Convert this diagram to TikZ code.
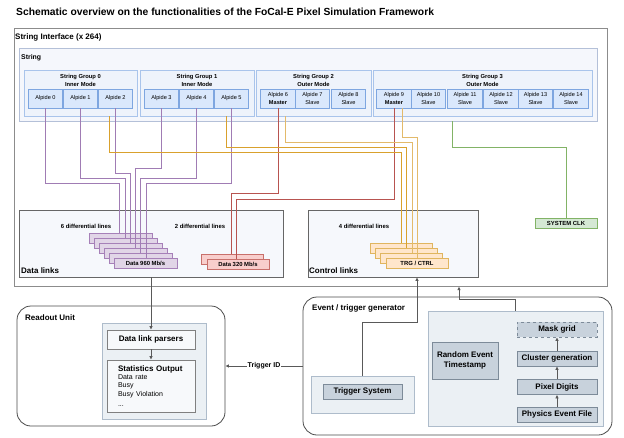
\documentclass[tikz,border=0pt]{standalone}
\usepackage{fontspec}
\setmainfont{Liberation Sans}
\usetikzlibrary{arrows.meta}
\definecolor{alpFl}{HTML}{DAE8FC}
\definecolor{alpBd}{HTML}{7EA6E0}
\definecolor{grpFl}{HTML}{EEF3FB}
\definecolor{grpBd}{HTML}{A9C4EB}
\definecolor{strFl}{HTML}{F5F7FC}
\definecolor{strBd}{HTML}{B4C0D8}
\definecolor{lnkFl}{HTML}{F6F8FC}
\definecolor{purFl}{HTML}{E1D5E7}
\definecolor{purBd}{HTML}{A680B8}
\definecolor{redFl}{HTML}{F8CECC}
\definecolor{redBd}{HTML}{C8706B}
\definecolor{oraFl}{HTML}{FFE6CC}
\definecolor{oraBd}{HTML}{E0B55F}
\definecolor{grnFl}{HTML}{D5E8D4}
\definecolor{grnBd}{HTML}{82B366}
\definecolor{pnlFl}{HTML}{EBF0F4}
\definecolor{pnlBd}{HTML}{AEBCCB}
\definecolor{dkFl}{HTML}{C8D2DC}
\definecolor{dkBd}{HTML}{7D8B99}
\definecolor{wOra}{HTML}{D9A12D}
\definecolor{wOraL}{HTML}{E3BA6A}
\definecolor{wPur}{HTML}{A07CB4}
\definecolor{wRed}{HTML}{B85450}
\tikzset{
    alp/.style ={rectangle, draw=alpBd, fill=alpFl, line width=0.7pt, minimum width=34.5pt, minimum height=19pt, inner sep=0pt, align=center, font=\fontsize{5.6}{8}\selectfont},
    grp/.style ={rectangle, draw=grpBd, fill=grpFl, line width=0.7pt, inner sep=0pt},
    glbl/.style ={align=center, inner sep=0pt, font=\fontsize{5.8}{7.3}\selectfont\bfseries},
    lbl/.style ={anchor=west, inner sep=0pt, font=\fontsize{8}{9}\selectfont\bfseries},
    slbl/.style ={inner sep=0pt, font=\fontsize{5.9}{7}\selectfont\bfseries},
    lnk/.style ={rectangle, draw=black!60, fill=lnkFl, line width=0.8pt, inner sep=0pt},
    pstk/.style ={rectangle, draw=purBd, fill=purFl, line width=0.7pt, minimum width=63pt, minimum height=10pt, inner sep=0pt, font=\fontsize{5.9}{7}\selectfont\bfseries},
    rstk/.style ={rectangle, draw=redBd, fill=redFl, line width=0.7pt, minimum width=62pt, minimum height=10pt, inner sep=0pt, font=\fontsize{5.9}{7}\selectfont\bfseries},
    ostk/.style ={rectangle, draw=oraBd, fill=oraFl, line width=0.7pt, minimum width=62pt, minimum height=10pt, inner sep=0pt, font=\fontsize{5.9}{7}\selectfont\bfseries},
    unit/.style ={rectangle, rounded corners=14pt, draw=black!70, fill=white, line width=0.8pt, inner sep=0pt},
    pnl/.style ={rectangle, draw=pnlBd, fill=pnlFl, line width=0.7pt, inner sep=0pt},
    dbox/.style ={rectangle, draw=dkBd, fill=dkFl, line width=0.7pt, inner sep=0pt, align=center, font=\fontsize{8}{10}\selectfont\bfseries},
    wbox/.style ={rectangle, draw=black!50, fill=white!60!pnlFl, line width=0.7pt, inner sep=0pt, font=\fontsize{8}{10}\selectfont\bfseries},
    pline/.style ={draw=wPur, line width=0.9pt},
    oline/.style ={draw=wOra, line width=0.9pt},
    olineL/.style ={draw=wOraL, line width=0.9pt},
    rline/.style ={draw=wRed, line width=0.9pt},
    gline/.style ={draw=grnBd, line width=0.9pt},
    arr/.style ={draw=black!65, line width=0.8pt, -{Latex[length=3.5pt,width=3.5pt]}}}

\begin{document}
\begin{tikzpicture}[x=1pt,y=-1pt]
        \useasboundingbox (0,0) rectangle (624,437);
        \node[lbl, font=\fontsize{10.3}{12}\selectfont\bfseries] (title) at (16,12) {Schematic overview on the functionalities of the FoCal-E Pixel Simulation Framework};
        \node[rectangle, draw=black!45, fill=white, line width=1pt, minimum width=593pt, minimum height=258pt] (si) at (310.5,157){};
        \node[lbl] (siL) at (15,37){String Interface (x 264)};
        \node[rectangle, draw=strBd, fill=strFl, line width=0.7pt, minimum width=578pt, minimum height=73pt] (str) at (308,84.5){};
        \node[lbl, font=\fontsize{6.9}{8}\selectfont\bfseries] (strL) at (21,58){String};
        \node[grp, minimum width=113pt, minimum height=46pt] (g0) at (80.5,93){};
        \node[grp, minimum width=114pt, minimum height=46pt] (g1) at (197,93){};
        \node[grp, minimum width=115pt, minimum height=46pt] (g2) at (313.5,93){};
        \node[grp, minimum width=219pt, minimum height=46pt] (g3) at (482.5,93){};
        \node[glbl] (g0L) at (80.5,80.5){String Group 0\\Inner Mode};
        \node[glbl] (g1L) at (197,80.5){String Group 1\\Inner Mode};
        \node[glbl] (g2L) at (313.5,80.5){String Group 2\\Outer Mode};
        \node[glbl] (g3L) at (482.5,80.5){String Group 3\\Outer Mode};
        \node[alp] (a0) at (45.5,98.5){Alpide 0};
        \node[alp] (a1) at (80.5,98.5){Alpide 1};
        \node[alp] (a2) at (115.5,98.5){Alpide 2};
        \node[alp] (a3) at (161.5,98.5){Alpide 3};
        \node[alp] (a4) at (196.5,98.5){Alpide 4};
        \node[alp] (a5) at (231.5,98.5){Alpide 5};
        \node[alp] (a6) at (278,98.5){Alpide 6\\\textbf{Master}};
        \node[alp] (a7) at (312.5,98.5){Alpide 7\\Slave};
        \node[alp] (a8) at (348.5,98.5){Alpide 8\\Slave};
        \node[alp] (a9) at (394,98.5){Alpide 9\\\textbf{Master}};
        \node[alp] (a10) at (428.5,98.5){Alpide 10\\Slave};
        \node[alp] (a11) at (465,98.5){Alpide 11\\Slave};
        \node[alp] (a12) at (501,98.5){Alpide 12\\Slave};
        \node[alp] (a13) at (535.5,98.5){Alpide 13\\Slave};
        \node[alp] (a14) at (571,98.5){Alpide 14\\Slave};
        \node[lnk, minimum width=264pt, minimum height=67pt] (dl) at (151,243.5){};
        \node[lnk, minimum width=170pt, minimum height=67pt] (cl) at (393,243.5){};
        \node[lbl] (dlL) at (21,271){Data links};
        \node[lbl] (clL) at (309,271){Control links};
        \node[slbl] (dlN6) at (86,226){6 differential lines};
        \node[slbl] (dlN2) at (200,226){2 differential lines};
        \node[slbl] (clN4) at (364,226){4 differential lines};
        \node[pstk] (pd0) at (120.5,238){};
        \node[pstk] (pd1) at (125.5,243){};
        \node[pstk] (pd2) at (130.5,248){};
        \node[pstk] (pd3) at (135.5,253){};
        \node[pstk] (pd4) at (140.5,258){};
        \node[pstk] (pd5) at (145.5,263){Data 960 Mb/s};
        \node[rstk] (rd0) at (232.5,259){};
        \node[rstk] (rd1) at (238,264){Data 320 Mb/s};
        \node[ostk] (od0) at (401,248){};
        \node[ostk] (od1) at (406,253){};
        \node[ostk] (od2) at (411.5,258){};
        \node[ostk] (od3) at (417,263){TRG / CTRL};
        \node[rectangle, draw=grnBd, fill=grnFl, line width=0.8pt, minimum width=62pt, minimum height=10pt, inner sep=0pt, font=\fontsize{5.9}{7}\selectfont\bfseries] (clk) at (566,223){SYSTEM CLK};
        \draw[pline] (a0.south) |- (119,183) -- (119,0 |- pd0.north);
        \draw[pline] (a1.south) |- (125,178) -- (125,0 |- pd1.north);
        \draw[pline] (a2.south) |- (130,173) -- (130,0 |- pd2.north);
        \draw[pline] (a3.south) |- (135,168) -- (135,0 |- pd3.north);
        \draw[pline] (a4.south) |- (140,178) -- (140,0 |- pd4.north);
        \draw[pline] (a5.south) |- (146,183) -- (146,0 |- pd5.north);
        \draw[rline] (a6.south) |- (231,193) -- (231,0 |- rd0.north);
        \draw[rline] (a9.south) |- (236,199) -- (236,0 |- rd1.north);
        \draw[oline] (109,0 |- g0.south) |- (401,152) -- (401,0 |- od0.north);
        \draw[oline] (226,0 |- g1.south) |- (406,147) -- (406,0 |- od1.north);
        \draw[olineL] (285,0 |- g2.south) |- (412,142) -- (412,0 |- od2.north);
        \draw[olineL] ([xshift=8pt]a9.south) |- (417,137) -- (417,0 |- od3.north);
        \draw[gline] (452,0 |- str.south) |- (566,147) -- (clk.north);
        \node[unit, minimum width=208pt, minimum height=120pt] (ru) at (121,366){};
        \node[lbl] (ruL) at (25,318){Readout Unit};
        \node[pnl, minimum width=104pt, minimum height=96pt] (rup) at (154,371){};
        \node[wbox, minimum width=88pt, minimum height=19pt] (dlp) at (151,339.5){Data link parsers};
        \node[wbox, minimum width=88pt, minimum height=52pt, text width=66pt, align=left] (so) at (151,386){Statistics Output\\[-1pt]{\fontsize{7}{8.7}\selectfont\mdseries Data rate\\Busy\\Busy Violation\\...}};
        \node[unit, minimum width=309pt, minimum height=138pt] (etg) at (457.5,366){};
        \node[lbl] (etgL) at (312,308){Event / trigger generator};
        \node[pnl, minimum width=103pt, minimum height=37pt] (tsp) at (362.5,394.5){};
        \node[dbox, minimum width=79pt, minimum height=15pt] (ts) at (362.5,391.5){Trigger System};
        \node[pnl, minimum width=175pt, minimum height=115pt] (rp) at (515.5,368.5){};
        \node[dbox, minimum width=66pt, minimum height=37pt] (ret) at (465,360.5){Random Event\\Timestamp};
        \node[dbox, dashed, minimum width=80pt, minimum height=15pt] (mg) at (557,329.5){Mask grid};
        \node[dbox, minimum width=80pt, minimum height=15pt] (cg) at (557,358.5){Cluster generation};
        \node[dbox, minimum width=80pt, minimum height=15pt] (pxd) at (557,387){Pixel Digits};
        \node[dbox, minimum width=80pt, minimum height=15pt] (pef) at (557,414.5){Physics Event File};
        \draw[arr] (dl.south -| dlp.north) -- (dlp.north);
        \draw[arr] (dlp) -- (so);
        \draw[arr] (pef) -- (pxd);
        \draw[arr] (pxd) -- (cg);
        \draw[arr] (cg) -- (mg);
        \draw[arr] (etg.west) -- node[fill=white, inner sep=1pt, font=\fontsize{7}{8}\selectfont\bfseries]{Trigger ID} (ru.east);
        \draw[arr] (tsp.north) |- (417,322) -- (417,0 |- cl.south);
        \draw[arr] (rp.north) |- (459,299) -- (459,0 |- si.south);
    \end{tikzpicture}
\end{document}
